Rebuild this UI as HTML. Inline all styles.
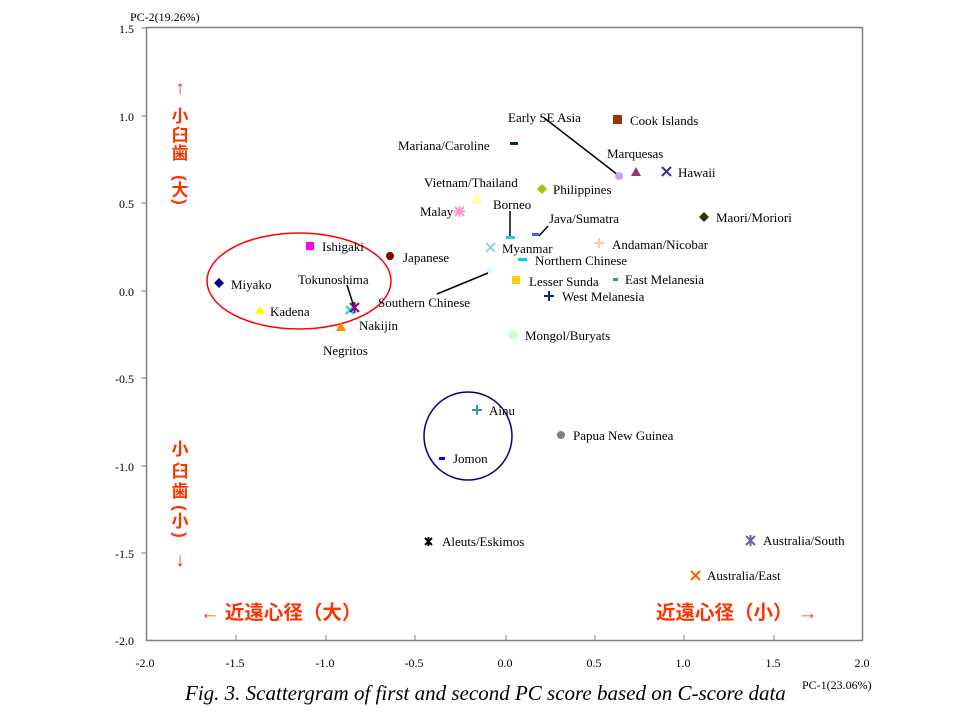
<!DOCTYPE html>
<html><head><meta charset="utf-8"><style>
body{margin:0;background:#fff;}
svg text{font-family:"Liberation Serif",serif;font-size:13px;fill:#000;}
svg text.j,.j text{font-family:"Liberation Sans","Noto Sans CJK JP",sans-serif;font-weight:bold;font-size:17px;fill:#ff3300;}
svg text.t{font-size:12px;}
</style></head><body>
<svg width="960" height="720" xmlns="http://www.w3.org/2000/svg">
<rect x="146.5" y="27.5" width="716" height="613" fill="none" stroke="#808080" stroke-width="1.5"/>
<g stroke="#808080" stroke-width="1">
<line x1="141" y1="28" x2="147" y2="28"/><line x1="141" y1="116" x2="147" y2="116"/><line x1="141" y1="203" x2="147" y2="203"/><line x1="141" y1="291" x2="147" y2="291"/><line x1="141" y1="378" x2="147" y2="378"/><line x1="141" y1="466" x2="147" y2="466"/><line x1="141" y1="553" x2="147" y2="553"/>
<line x1="236" y1="640" x2="236" y2="635"/><line x1="326" y1="640" x2="326" y2="635"/><line x1="415" y1="640" x2="415" y2="635"/><line x1="506" y1="640" x2="506" y2="635"/><line x1="595" y1="640" x2="595" y2="635"/><line x1="684" y1="640" x2="684" y2="635"/><line x1="774" y1="640" x2="774" y2="635"/>
</g>
<g text-anchor="end">
<text class="t" x="134" y="33">1.5</text><text class="t" x="134" y="121">1.0</text><text class="t" x="134" y="208">0.5</text><text class="t" x="134" y="296">0.0</text><text class="t" x="134" y="383">-0.5</text><text class="t" x="134" y="471">-1.0</text><text class="t" x="134" y="558">-1.5</text><text class="t" x="134" y="645">-2.0</text>
</g>
<g text-anchor="middle">
<text class="t" x="145" y="667">-2.0</text><text class="t" x="235" y="667">-1.5</text><text class="t" x="325" y="667">-1.0</text><text class="t" x="414" y="667">-0.5</text><text class="t" x="505" y="667">0.0</text><text class="t" x="594" y="667">0.5</text><text class="t" x="683" y="667">1.0</text><text class="t" x="773" y="667">1.5</text><text class="t" x="862" y="667">2.0</text>
</g>
<text x="130" y="21" class="t">PC-2(19.26%)</text>
<text x="802" y="689" class="t">PC-1(23.06%)</text>
<text x="185" y="700" style="font-style:italic;font-size:21px">Fig. 3. Scattergram of first and second PC score based on C-score data</text>
<g class="j" text-anchor="middle">
<text x="180" y="94" style="font-weight:normal;font-size:19px">↑</text>
<text x="180" y="122">小</text><text x="180" y="141">臼</text><text x="180" y="159">歯</text>
<text transform="translate(180,178) rotate(90)" dominant-baseline="central">(</text>
<text x="180" y="196">大</text>
<text transform="translate(180,202) rotate(90)" dominant-baseline="central">)</text>
<text x="180" y="455">小</text><text x="180" y="477">臼</text><text x="180" y="497">歯</text>
<text transform="translate(180,508) rotate(90)" dominant-baseline="central">(</text>
<text x="180" y="527">小</text>
<text transform="translate(180,535) rotate(90)" dominant-baseline="central">)</text>
<text x="180" y="566" style="font-weight:normal;font-size:19px">↓</text>
</g>
<text class="j" x="200" y="619" style="font-size:19.5px">← 近遠心径（大）</text>
<text class="j" x="656" y="619" style="font-size:19.5px">近遠心径（小） →</text>
<ellipse cx="299" cy="281" rx="92" ry="48" fill="none" stroke="#ff0000" stroke-width="1.5"/>
<circle cx="468" cy="436" r="44" fill="none" stroke="#000080" stroke-width="1.5"/>
<g stroke="#000" stroke-width="1.5">
<line x1="543" y1="117" x2="618" y2="175"/>
<line x1="510" y1="211" x2="510" y2="236"/>
<line x1="539" y1="236" x2="548" y2="226"/>
<line x1="488" y1="273" x2="437" y2="294"/>
<line x1="347" y1="285" x2="354" y2="307"/>
</g>
<polygon points="219,278 224,283 219,288 214,283" fill="#000080"/>
<polygon points="260,306 265,314 255,314" fill="#ffff00"/>
<rect x="306" y="242" width="8" height="8" fill="#ff00ff"/>
<circle cx="390" cy="256" r="4" fill="#800000"/>
<polygon points="341,322 346,331 336,331" fill="#ff8c00"/>
<g stroke-width="2"><path d="M346,306l8,8M354,306l-8,8" stroke="#00e0e0"/><path d="M350,303l9,9M359,303l-9,9M354.5,302v11" stroke="#800080"/></g>
<rect x="510" y="142" width="8" height="3" fill="#004000"/>
<rect x="613" y="115" width="9" height="9" fill="#993300"/>
<circle cx="619" cy="176" r="4" fill="#c9a0f0"/>
<polygon points="636,167 641,176 631,176" fill="#993366"/>
<path d="M662,167l9,9M671,167l-9,9" stroke="#333399" stroke-width="2"/>
<polygon points="542,184 547,189 542,194 537,189" fill="#99cc00"/>
<polygon points="477,194 482,203 472,203" fill="#ffff99"/>
<path d="M455,207l9,9M464,207l-9,9M459.5,206v11M454,211.5h11" stroke="#ff99cc" stroke-width="2"/>
<polygon points="704,212 709,217 704,222 699,217" fill="#333300"/>
<rect x="506" y="236" width="9" height="3" fill="#33cccc"/>
<rect x="532" y="233" width="7" height="3" fill="#3366ff"/>
<path d="M486,243l9,9M495,243l-9,9" stroke="#99ccff" stroke-width="2"/>
<path d="M594,243h10M599,238v10" stroke="#ffcc99" stroke-width="2"/>
<rect x="518" y="258" width="9" height="3" fill="#00ccff"/>
<polygon points="490,266 494,270 490,274 486,270" fill="#ccffff"/>
<rect x="512" y="276" width="8" height="8" fill="#ffcc00"/>
<rect x="613" y="278" width="5" height="3" fill="#339966"/>
<path d="M544,296h10M549,291v10" stroke="#003366" stroke-width="2"/>
<rect x="509" y="331" width="8" height="8" fill="#ccffcc"/>
<path d="M472,410h10M477,405v10" stroke="#339999" stroke-width="2"/>
<rect x="439" y="457" width="6" height="3" fill="#0000ff"/>
<circle cx="561" cy="435" r="4" fill="#808080"/>
<path d="M425,538l7,7M432,538l-7,7M428.5,537v9" stroke="#000" stroke-width="2"/>
<path d="M746,536l9,9M755,536l-9,9M750.5,535v11" stroke="#666699" stroke-width="2"/>
<path d="M691,571l9,9M700,571l-9,9" stroke="#ff6600" stroke-width="2"/>
<text x="231" y="289">Miyako</text>
<text x="270" y="316">Kadena</text>
<text x="322" y="251">Ishigaki</text>
<text x="403" y="262">Japanese</text>
<text x="298" y="284">Tokunoshima</text>
<text x="359" y="330">Nakijin</text>
<text x="323" y="355">Negritos</text>
<text x="378" y="307">Southern Chinese</text>
<text x="508" y="122">Early SE Asia</text>
<text x="630" y="125">Cook Islands</text>
<text x="398" y="150">Mariana/Caroline</text>
<text x="607" y="158">Marquesas</text>
<text x="678" y="177">Hawaii</text>
<text x="424" y="187">Vietnam/Thailand</text>
<text x="553" y="194">Philippines</text>
<text x="420" y="216">Malay</text>
<text x="493" y="209">Borneo</text>
<text x="549" y="223">Java/Sumatra</text>
<text x="716" y="222">Maori/Moriori</text>
<text x="612" y="249">Andaman/Nicobar</text>
<text x="502" y="253">Myanmar</text>
<text x="535" y="265">Northern Chinese</text>
<text x="529" y="286">Lesser Sunda</text>
<text x="625" y="284">East Melanesia</text>
<text x="562" y="301">West Melanesia</text>
<text x="525" y="340">Mongol/Buryats</text>
<text x="489" y="415">Ainu</text>
<text x="453" y="463">Jomon</text>
<text x="573" y="440">Papua New Guinea</text>
<text x="442" y="546">Aleuts/Eskimos</text>
<text x="763" y="545">Australia/South</text>
<text x="707" y="580">Australia/East</text>
</svg>
</body></html>
